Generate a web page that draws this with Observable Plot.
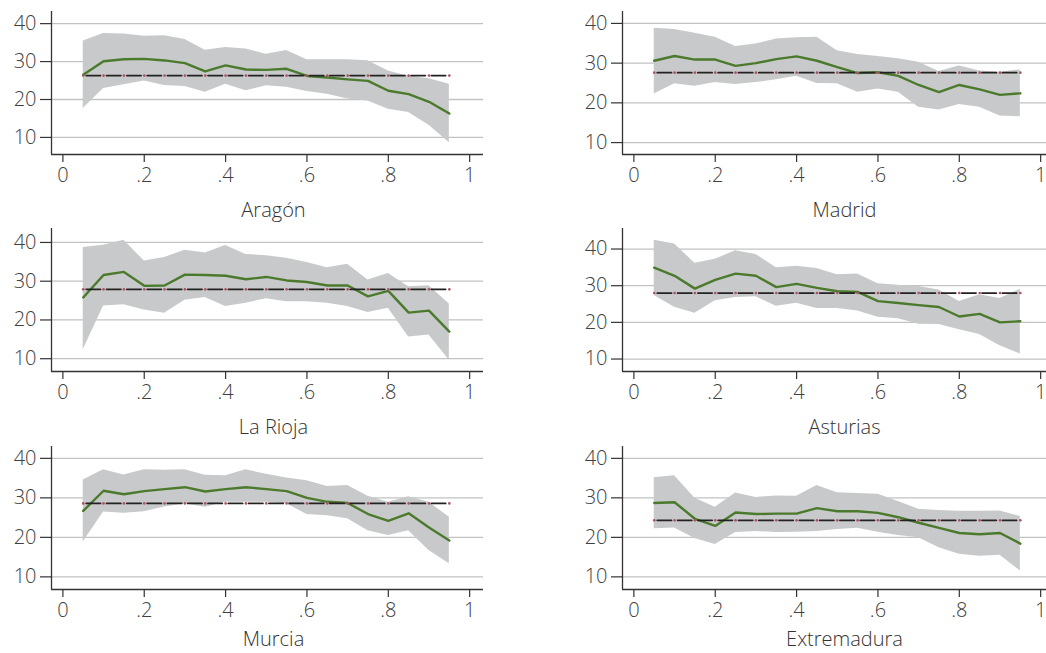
<!DOCTYPE html>
<html><head><meta charset="utf-8">
<script src="https://cdn.jsdelivr.net/npm/d3@7"></script>
<script src="https://cdn.jsdelivr.net/npm/@observablehq/plot@0.6"></script>
<style>
html,body{margin:0;padding:0;background:#fff;overflow:hidden;}
#chart{position:relative;width:1046px;height:653px;overflow:hidden;}
#chart svg{position:absolute;}
</style></head><body><div id="chart"></div>
<script>
const quantiles = [0.05,0.10,0.15,0.20,0.25,0.30,0.35,0.40,0.45,0.50,0.55,0.60,0.65,0.70,0.75,0.80,0.85,0.90,0.95];
const xTicks = [0,0.2,0.4,0.6,0.8,1];
const yTicks = [10,20,30,40];
const regionNames = ["Aragón","Madrid","La Rioja","Asturias","Murcia","Extremadura"];

const aragonEst = [26.5,30.1,30.6,30.7,30.3,29.6,27.4,29.0,27.9,27.8,28.1,26.2,25.8,25.3,24.9,22.3,21.4,19.4,16.3];
const aragonHi  = [35.4,37.4,37.3,36.7,36.8,35.8,33.0,33.7,33.3,31.9,32.9,30.5,30.5,30.5,30.2,27.5,26.1,25.5,24.0];
const aragonLo  = [17.6,22.9,23.9,24.9,23.7,23.4,21.9,24.0,22.3,23.6,23.2,22.1,21.4,20.1,19.6,17.4,16.6,13.2,8.6];

const madridEst = [30.6,31.8,30.9,30.9,29.3,30.0,31.0,31.7,30.6,29.0,27.5,27.7,26.8,24.5,22.7,24.5,23.4,22.0,22.4];
const madridHi  = [38.8,38.5,37.5,36.5,34.2,34.8,36.1,36.4,36.5,33.1,32.2,31.7,31.1,30.2,27.9,29.3,28.0,27.7,28.3];
const madridLo  = [22.2,24.8,24.2,25.1,24.6,25.1,25.8,26.7,24.9,24.8,22.7,23.5,22.7,18.9,18.2,19.6,18.9,16.7,16.5];

const riojaEst = [25.8,31.6,32.4,28.8,28.9,31.7,31.6,31.4,30.5,31.1,30.2,29.8,28.9,28.9,26.1,27.5,21.9,22.4,17.0];
const riojaHi  = [38.7,39.3,40.6,35.2,36.1,38.0,37.3,39.2,36.9,36.6,35.9,34.8,33.5,34.4,30.3,32.0,28.6,28.8,24.1];
const riojaLo  = [12.3,23.6,23.9,22.6,21.7,25.1,25.8,23.5,24.3,25.5,24.7,24.7,24.3,23.5,21.9,23.0,15.6,16.1,9.6];

const asturiasEst = [34.9,32.7,29.2,31.6,33.3,32.7,29.6,30.5,29.4,28.5,28.3,25.8,25.3,24.7,24.2,21.6,22.3,20.0,20.3];
const asturiasHi  = [42.4,41.4,36.1,37.2,39.5,38.5,34.9,35.3,34.7,33.0,33.2,30.5,30.1,29.8,28.8,25.7,27.5,26.5,29.0];
const asturiasLo  = [27.3,24.1,22.5,25.9,26.8,27.0,24.4,25.2,23.8,23.8,23.1,21.4,21.0,19.5,19.4,18.0,16.7,13.6,11.4];

const murciaEst = [26.7,31.8,30.9,31.7,32.2,32.7,31.6,32.2,32.7,32.2,31.7,30.0,29.0,28.7,25.9,24.2,26.1,22.5,19.2];
const murciaHi  = [34.5,37.1,35.8,37.1,37.0,37.1,35.7,35.6,37.1,36.0,35.0,34.3,32.9,33.1,30.4,28.9,30.3,28.9,25.1];
const murciaLo  = [18.8,26.4,26.1,26.5,27.7,28.5,27.6,28.9,28.9,28.9,28.5,25.8,25.5,24.7,21.7,20.5,21.7,16.7,13.3];

const extremaduraEst = [28.7,28.9,24.7,22.9,26.3,25.9,26.0,26.0,27.4,26.6,26.6,26.2,25.1,23.7,22.4,21.1,20.8,21.1,18.4];
const extremaduraHi  = [35.1,35.6,29.9,27.6,31.2,30.1,30.5,30.4,33.1,31.3,31.1,30.9,29.1,27.1,26.8,26.6,26.6,26.7,25.3];
const extremaduraLo  = [22.2,22.4,19.7,18.2,21.2,21.5,21.2,21.3,21.5,22.0,22.3,21.3,20.5,19.9,17.4,15.7,15.2,15.5,11.5];

const regionMeans = [26.3,27.6,27.9,28.0,28.6,24.3];
const yDomains = [[5.5,43.2],[7,43],[6.7,43.6],[6.6,45.6],[6.8,43],[6.8,43]];

const panels = [
  [aragonEst, aragonLo, aragonHi],
  [madridEst, madridLo, madridHi],
  [riojaEst, riojaLo, riojaHi],
  [asturiasEst, asturiasLo, asturiasHi],
  [murciaEst, murciaLo, murciaHi],
  [extremaduraEst, extremaduraLo, extremaduraHi]
];

const colLeft = [0, 570];
const rowTop = [0, 217, 435];
const titleDy = [62, 62, 56];
const xDomain = [-0.028, 1.034];
const fmtX = d => d === 0 ? "0" : d === 1 ? "1" : d3.format(".1f")(d).replace(/^0/, "");
const font = "'Open Sans', 'Lato', sans-serif";

const chart = document.getElementById("chart");
panels.forEach(([est, lo, hi], i) => {
  const col = i % 2, row = Math.floor(i / 2);
  const mean = regionMeans[i];
  const yDom = yDomains[i];
  const rows = quantiles.map((q, j) => ({q, est: est[j], lo: lo[j], hi: hi[j], mean}));
  const W = col === 0 ? 490 : 484;
  const svg = Plot.plot({
    width: W, height: 217,
    marginLeft: col === 0 ? 51 : 52, marginRight: col === 0 ? 7 : 0,
    marginTop: 11, marginBottom: 63,
    style: {fontFamily: font, fontSize: "20px", color: "#404040", background: "transparent", overflow: "visible", fontWeight: 300},
    x: {domain: xDomain},
    y: {domain: yDom},
    marks: [
      Plot.gridY(yTicks, {stroke: "#c2c2c2", strokeOpacity: 1, strokeWidth: 1.3}),
      Plot.areaY(rows, {x: "q", y1: "lo", y2: "hi", fill: "#c8c9cb", fillOpacity: 1}),
      Plot.lineY(rows, {x: "q", y: "est", stroke: "#4b7a2c", strokeWidth: 2.4}),
      Plot.lineY(rows, {x: "q", y: "mean", stroke: "#222", strokeWidth: 1.8, strokeDasharray: "14.3,6", strokeDashoffset: -3}),
      Plot.dot(rows, {x: "q", y: "mean", r: 1.3, fill: "#b0505e", stroke: "none"}),
      Plot.ruleX([xDomain[0]], {stroke: "#333", strokeWidth: 1.3}),
      Plot.ruleY([yDom[0]], {stroke: "#333", strokeWidth: 1.3}),
      Plot.axisY(yTicks, {tickSize: 11, tickPadding: 4, label: null, fontSize: 20, stroke: "#333", strokeWidth: 1.2}),
      Plot.axisX(xTicks, {tickSize: 8, tickPadding: 5, label: null, fontSize: 20, tickFormat: fmtX, stroke: "#333", strokeWidth: 1.2}),
      Plot.text([regionNames[i]], {frameAnchor: "bottom", dx: 6, dy: titleDy[row], fontSize: 20, fill: "#333"})
    ]
  });
  svg.style.left = colLeft[col] + "px";
  svg.style.top = rowTop[row] + "px";
  chart.appendChild(svg);
});
</script></body></html>
